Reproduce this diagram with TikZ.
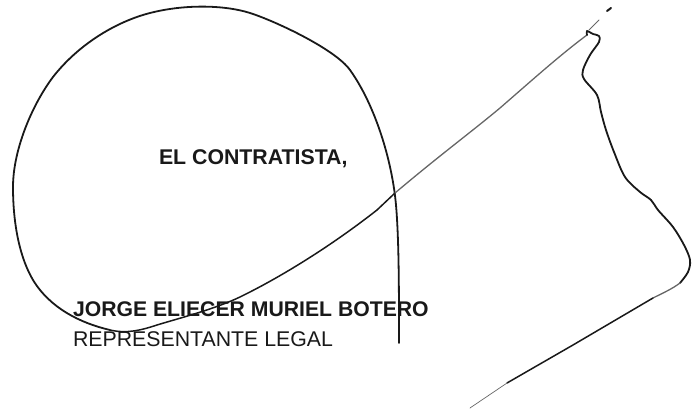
\documentclass[tikz,border=0pt]{standalone}
\usepackage{fontspec}
\setmainfont{Liberation Sans}
\tikzset{
  lbl/.style={anchor=base west,inner sep=0pt,outer sep=0pt,text=black!90},
  ink/.style={line cap=round,line join=round,draw=black!90,line width=1.8pt},
  thin ink/.style={line cap=round,line join=round,draw=black!60,line width=1.3pt}
}
\begin{document}
\begin{tikzpicture}[x=1pt,y=-1pt]
\useasboundingbox (0,0) rectangle (699,419);
\node[lbl,font=\bfseries\fontsize{21.3}{24}\selectfont] (title) at (159,165) {EL CONTRATISTA,};
\node[lbl,font=\bfseries\fontsize{21.2}{24}\selectfont] (name) at (73,317) {JORGE ELIECER MURIEL BOTERO};
\node[lbl,font=\fontsize{21.3}{24}\selectfont] (role) at (73,347) {REPRESENTANTE LEGAL};
% main loop
\draw[ink] (399,343) .. controls (399,290) and (399,240) .. (396,205)
  .. controls (392,160) and (375,105) .. (350,70)
  .. controls (335,49) and (275,21) .. (250,13)
  .. controls (225,5) and (185,4) .. (150,13)
  .. controls (115,22) and (78,45) .. (53,77)
  .. controls (32,105) and (13,150) .. (13,187)
  .. controls (13,225) and (20,258) .. (33,280)
  .. controls (50,308) and (80,323) .. (110,330);
\draw[ink,line width=1.5pt] (110,330) .. controls (127,334) and (142,330) .. (157,325)
  .. controls (180,318) and (215,309) .. (240,297)
  .. controls (285,275) and (335,243) .. (377,210)
  -- (395,193);
\draw[thin ink] (395,193) .. controls (440,155) and (470,133) .. (500,108)
  .. controls (530,82) and (560,55) .. (587,35);
% squiggle and right side
\draw[ink] plot[smooth,tension=0.55] coordinates {
 (587,35) (587,31) (593,34) (599,36) (599,42) (590,55) (583,70) (584,79) (597,95) (601,112) (606,130) (614,152) (625,177) (640,192) (651,200) (658,210) (673,227) (684,245) (690,260) (688,272) (680,283)};
\draw[thin ink] (680,283) .. controls (672,289) and (663,293) .. (653,298);
\draw[ink,line width=1.5pt] (653,298) -- (573,345) -- (507,383);
\draw[thin ink,line width=0.7pt] (507,383) -- (470,408);
% pen flick
\draw[thin ink,line width=0.8pt] (589,30) -- (599,20);
\draw[ink,line width=2pt] (607,11) -- (611,8);
\end{tikzpicture}
\end{document}
